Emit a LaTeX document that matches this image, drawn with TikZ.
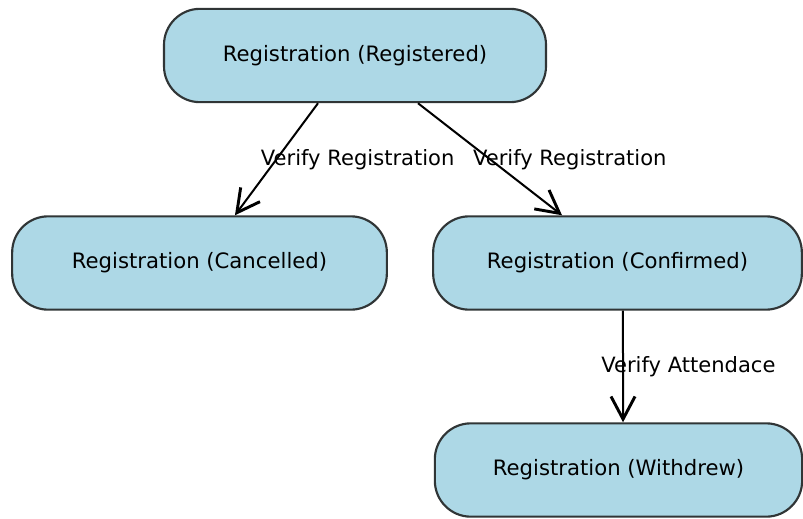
\documentclass[tikz,border=0pt]{standalone}
\usepackage{fontspec}
\setmainfont{DejaVu Sans}
\usetikzlibrary{arrows.meta}
\definecolor{statefill}{HTML}{ADD8E6}
\definecolor{stateline}{HTML}{303536}

\begin{document}
\begin{tikzpicture}[x=0.75pt, y=-0.75pt, >={Straight Barb[length=17pt, width=18pt, line width=2.2pt]},
    state/.style={draw=stateline, line width=1.6pt, fill=statefill, rounded corners=27pt,
      minimum height=70pt, font=\fontsize{15.9}{18}\selectfont},
    lbl/.style={midway, anchor=west, inner sep=0pt, font=\fontsize{15.8}{18}\selectfont}]
  \useasboundingbox (0,0) rectangle (803,518);
  \node[state, minimum width=286.5pt] (reg) at (355,55.5) {Registration (Registered)};
  \node[state, minimum width=281pt] (canc) at (199.5,263) {Registration (Cancelled)};
  \node[state, minimum width=276.5pt] (conf) at (617.5,263) {Registration (Confirmed)};
  \node[state, minimum width=275.5pt] (wdr) at (618.5,470) {Registration (Withdrew)};
  % transitions
  \draw[->, line width=1.5pt] ([xshift=-27.75pt]reg.south) -- ([xshift=26.6pt]canc.north)
    node[lbl, xshift=-12.4pt] {Verify Registration};
  \draw[->, line width=1.5pt] ([xshift=47.25pt]reg.south) -- ([xshift=-41.6pt]conf.north)
    node[lbl, xshift=-13.5pt] {Verify Registration};
  \draw[->, line width=1.5pt] ([xshift=4.1pt]conf.south) -- ([xshift=3.4pt]wdr.north)
    node[lbl, xshift=-17pt] {Verify Attendace};
\end{tikzpicture}
\end{document}
